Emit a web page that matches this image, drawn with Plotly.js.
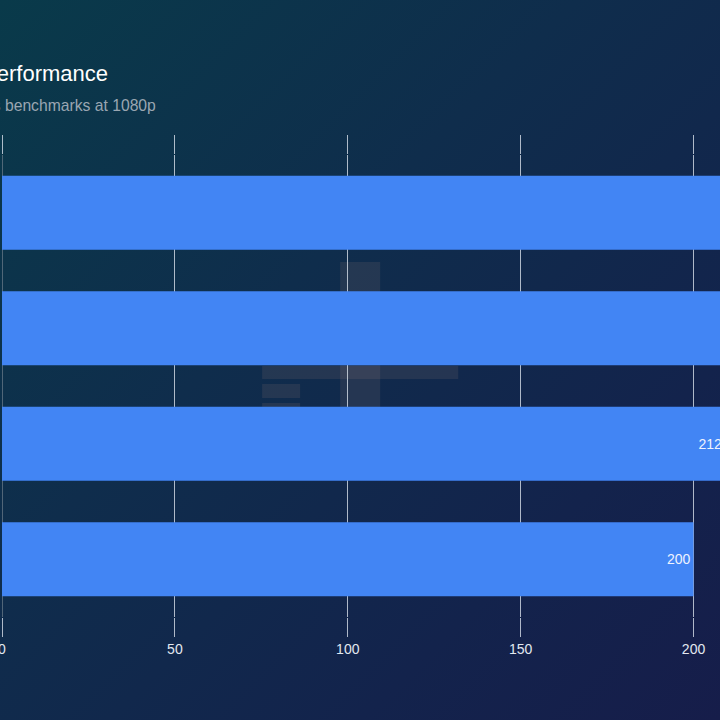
<!DOCTYPE html>
<html>
<head>
<meta charset="utf-8">
<script src="https://cdn.plot.ly/plotly-3.0.1.min.js"></script>
<style>
  html, body {
    margin: 0; padding: 0; width: 720px; height: 720px; overflow: hidden;
    background: linear-gradient(135deg, #093a4a 0%, #0f2d4c 40%, #13234c 75%, #161d4a 100%);
  }
  #chart { position: absolute; left: -260px; top: 0; width: 1200px; height: 720px; }
</style>
</head>
<body>
<div id="chart"></div>
<script>
// GPU names, bottom to top
const gpus = ['RX 7900 XT', 'RTX 4080', 'RX 7900 XTX', 'RTX 4090'];
// Average frames per second
const fps = [200, 212.5, 228, 245];
const xTicks = [0, 50, 100, 150, 200, 250];

const W = 1200, H = 720, SHIFT = 260;
const ML = 262, MT = 155, MB = 103;
const XMAX = 260, PX_PER_UNIT = 3.456;
const PW = XMAX * PX_PER_UNIT;
const MR = W - ML - PW;
const PH = H - MT - MB;

// helpers: visible-window pixel -> paper fraction
const px = v => (v + SHIFT - ML) / PW;
const py = v => (H - MB - v) / PH;

const faint = 'rgba(190,150,135,0.12)';
const rect = (x0, y0, x1, y1) => ({
  type: 'rect', xref: 'paper', yref: 'paper', layer: 'below',
  x0: px(x0), x1: px(x1), y0: py(y1), y1: py(y0),
  fillcolor: faint, line: { width: 0 }
});

const trace = {
  type: 'bar',
  orientation: 'h',
  x: fps,
  y: gpus,
  marker: { color: '#4285f4' },
  text: fps.map(String),
  textposition: 'inside',
  insidetextanchor: 'end',
  textfont: { family: 'Liberation Sans, Arial, sans-serif', size: 14, color: '#eef3ff' },
  hoverinfo: 'x+y'
};

const layout = {
  width: W, height: H,
  margin: { l: ML, r: MR, t: MT, b: MB, pad: 0 },
  paper_bgcolor: 'rgba(0,0,0,0)',
  plot_bgcolor: 'rgba(0,0,0,0)',
  bargap: 0.36,
  showlegend: false,
  title: {
    text: 'GPU Performance',
    xref: 'container', yref: 'container',
    x: (108 + SHIFT) / W, xanchor: 'right',
    y: 1 - 73 / H, yanchor: 'middle',
    font: { family: 'Liberation Sans, Arial, sans-serif', size: 22, color: '#ffffff' }
  },
  annotations: [{
    text: 'Average FPS across benchmarks at 1080p',
    xref: 'paper', yref: 'paper',
    x: px(158), xanchor: 'right',
    y: py(105), yanchor: 'middle',
    showarrow: false,
    font: { family: 'Liberation Sans, Arial, sans-serif', size: 15.7, color: '#9aa6b2' }
  }],
  xaxis: {
    range: [0, XMAX],
    tickvals: xTicks,
    ticktext: xTicks.map(String),
    showgrid: true,
    gridcolor: 'rgba(215,222,232,0.8)',
    gridwidth: 1,
    zeroline: true,
    zerolinecolor: 'rgba(110,125,140,0.7)',
    zerolinewidth: 1,
    ticks: 'outside',
    ticklen: 19,
    tickcolor: 'rgba(215,222,232,0.8)',
    tickwidth: 1,
    mirror: 'ticks',
    showline: false,
    tickfont: { family: 'Liberation Sans, Arial, sans-serif', size: 14, color: '#e2e8f0' },
    fixedrange: true
  },
  yaxis: {
    type: 'category',
    showgrid: false,
    zeroline: false,
    showline: false,
    ticks: '',
    ticklabelstandoff: 14,
    tickfont: { family: 'Liberation Sans, Arial, sans-serif', size: 13, color: '#dfe6ef' },
    fixedrange: true
  },
  shapes: [
    rect(340, 262, 380, 410),
    rect(262, 366, 458, 379),
    rect(262, 384, 300, 398),
    rect(262, 403, 300, 412)
  ]
};

Plotly.newPlot('chart', [trace], layout, { displayModeBar: false, staticPlot: true });
</script>
</body>
</html>
